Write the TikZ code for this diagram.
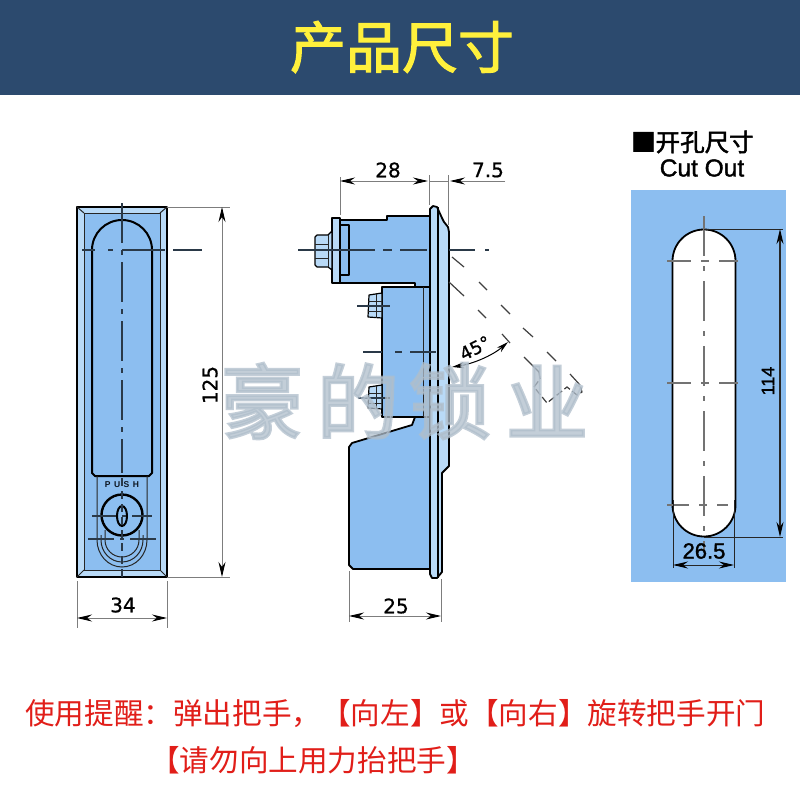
\documentclass[tikz,border=0pt]{standalone}
\usepackage{fontspec}
\setmainfont{Liberation Sans}
\newfontfamily\cjk{Noto Sans CJK SC}
\newfontfamily\cjkmid[FakeBold=2]{Noto Sans CJK SC}
\newfontfamily\cjkmark[FakeBold=3.5]{Noto Sans CJK SC}
\newfontfamily\latinmid[FakeBold=1.5]{Liberation Sans}
\newfontfamily\dimfont[FakeBold=.8]{DejaVu Sans}
\usetikzlibrary{arrows.meta}
\definecolor{headblue}{RGB}{44,74,110}
\definecolor{partblue}{RGB}{140,190,240}
\definecolor{paleblue}{RGB}{185,218,247}
\definecolor{titleyellow}{RGB}{255,240,60}
\definecolor{markgray}{RGB}{176,190,203}
\definecolor{noticered}{RGB}{225,30,25}
\definecolor{dimgray}{RGB}{125,125,125}
\tikzstyle{part}=[draw=black,line width=1.8pt,fill=partblue,line join=round]
\tikzstyle{thin part}=[draw=black!85,line width=1pt]
\tikzstyle{centre}=[draw=black!70!partblue,line width=1.2pt,dash pattern=on 40pt off 7pt on 5pt off 7pt]
\tikzstyle{dim}=[draw=dimgray,line width=1pt]
\tikzstyle{dimline}=[dim,{Stealth[length=15pt,width=7pt,color=black]}-{Stealth[length=15pt,width=7pt,color=black]}]
\tikzstyle{dimend}=[dim,-{Stealth[length=15pt,width=7pt,color=black]}]
\tikzstyle{dimtext}=[font=\dimfont\fontsize{20}{22}\selectfont,inner sep=0pt]
\tikzstyle{ghost}=[draw=black!75,line width=1.2pt]
\begin{document}
\begin{tikzpicture}[x=1pt,y=-1pt]
	\useasboundingbox (0,0) rectangle (800,800);
	\fill[white] (0,0) rectangle (800,800);
	\fill[headblue] (0,0) rectangle (800,95);
	\node[text=titleyellow,inner sep=0pt,font=\cjkmid\fontsize{56}{60}\selectfont] (title) at (402,47) {产品尺寸};

	% Front view
	\draw[part,fill=paleblue] (77,207) rectangle (167,577);
	\fill[partblue] (84,213) rectangle (160,570);
	\draw[thin part] (84,213) rectangle (160,570);
	\draw[thin part] (77,207) -- (84,213) (167,207) -- (160,213) (77,577) -- (84,570) (167,577) -- (160,570);
	\draw[part,line width=2pt] (92,473) -- (92,250) arc[start angle=180,end angle=360,radius=30] -- (152,473) -- (149,476) -- (95,476) -- cycle;
	\draw[thin part] (97,476) -- (97,540) arc[start angle=180,end angle=0,x radius=25,y radius=27] -- (147,476);
	\draw[thin part] (105,530) -- (105,540) arc[start angle=180,end angle=0,x radius=17,y radius=17] -- (139,530);
	\draw[thin part] (101,535) -- (101,540) arc[start angle=180,end angle=0,x radius=21,y radius=22] -- (143,535);
	\draw[part,line width=2.4pt] (122,515) circle (20.5);
	\draw[draw=black,line width=2pt] (122,516) ellipse (5 and 10);
	\node[inner sep=0pt,text=black!70!headblue,font=\bfseries\fontsize{8.5}{10}\selectfont] (push) at (122,485) {P\hspace{3.5pt}U\hspace{3.5pt}S\hspace{3.5pt}H};
	\draw[centre] (122,203) -- (122,473);
	\draw[centre,dash pattern=on 8pt off 5pt] (122,478) -- (122,580);
	\draw[centre,dash pattern=on 13pt off 13pt on 5pt off 9pt on 43pt off 8pt on 30pt] (82,250) -- (202,250);
	\draw[centre,dash pattern=on 24pt off 6pt on 4pt off 6pt] (92,516) -- (152,516);
	\draw[centre,dash pattern=on 26pt off 6pt on 4pt off 6pt] (88,539) -- (156,539);

	% Side view
	\draw[part] (349,447) -- (352,443) -- (412,425) -- (415,417) -- (432,417) -- (432,569) -- (353,569) -- (349,565) -- cycle;
	\draw[part] (340,220) -- (387,220) -- (387,216) -- (432,216) -- (432,287) -- (415,287) -- (415,283) -- (340,283) -- cycle;
	\draw[part] (382,287) rectangle (430,417);
	\draw[thin part] (423,287) -- (423,417);
	\draw[part,fill=paleblue] (332,218) rectangle (340,283);
	\draw[part] (340,225) rectangle (349,275);
	\draw[part,fill=paleblue,line width=1.2pt] (315,237) -- (317,235) -- (328,235) -- (332,231) -- (332,270) -- (328,267) -- (317,267) -- (315,265) -- cycle;
	\draw[thin part] (315,244) -- (328,244) (315,258) -- (328,258) (328,235) -- (328,267);
	\draw[part,fill=paleblue,line width=1.2pt] (382,293) -- (369,295) -- (368,317) -- (382,318) -- cycle;
	\draw[thin part] (368,301) -- (382,301) (368,311) -- (382,311) (376,294) -- (376,318);
	\draw[part,fill=paleblue,line width=1.2pt] (382,385) -- (369,387) -- (368,408) -- (382,409) -- cycle;
	\draw[thin part] (368,393) -- (382,393) (368,403) -- (382,403) (376,386) -- (376,409);
	\draw[part,fill=paleblue] (430,209) -- (433,206) -- (437,207) -- (442,218) -- (444,222) -- (448,227) -- (449,232) -- (449,466) -- (442,473) -- (442,572) -- (437,578) -- (432,578) -- (430,574) -- cycle;
	\draw[black,line width=2.6pt] (430,209) -- (430,574);
	\draw[black,line width=1.2pt] (438,207) -- (438,578);
	\draw[centre,dash pattern=on 77pt off 8pt on 9pt off 8pt on 27pt off 22pt on 26pt off 10pt on 4pt] (298,250) -- (492,250);
	\draw[centre,dash pattern=on 19pt off 13pt on 7pt off 8pt on 26pt] (363,352) -- (436,352);
	\draw[centre] (357,306) -- (390,306) (358,398) -- (390,398);

	% Open handle, 45 degrees
	\draw[ghost] (452,257) -- (464,267) (479,282) -- (487,290) (501,305) -- (510,314) (523,328) -- (533,337) (547,352) -- (556,361) (570,374) -- (580,385);
	\draw[ghost] (449,282) -- (464,296) (478,310) -- (486,318) (502,334) -- (510,343) (524,357) -- (539,372);
	\draw[ghost,dash pattern=on 7pt off 3pt] (539,372) -- (540,379) -- (534,387) -- (547,403) -- (567,387) -- (577,395) -- (582,392) -- (580,385);
	\coordinate (a1) at (452,367);
	\coordinate (a2) at (508,342);
	\draw[black,line width=1pt,{Stealth[length=12pt,width=6pt]}-{Stealth[length=12pt,width=6pt]}] (a1) .. controls (472,364) and (492,356) .. (a2);
	\node[rotate=27,inner sep=0pt,font=\dimfont\fontsize{18}{20}\selectfont] (angle) at (475,348) {45°};

	% Cut out
	\node[anchor=west,inner sep=0pt,font=\cjkmid\fontsize{24.5}{26}\selectfont] (cuttitle) at (631,142) {■开孔尺寸};
	\node[inner sep=0pt,font=\latinmid\fontsize{24.5}{26}\selectfont] (cutname) at (702,168) {Cut Out};
	\fill[partblue] (631,190) rectangle (786,582);
	\draw[fill=white,draw=black,line width=1.8pt] (672.5,261) arc[start angle=180,end angle=360,radius=31.5] -- (735.5,505) arc[start angle=0,end angle=180,radius=31.5] -- cycle;
	\draw[centre,draw=black!55,dash pattern=on 40pt off 10pt on 5pt off 10pt] (704,216) -- (704,552);
	\draw[centre,draw=black!55,dash pattern=on 24pt off 10pt on 8pt off 10pt on 24pt] (667,261) -- (738,261);
	\draw[centre,draw=black!55,dash pattern=on 24pt off 10pt on 8pt off 10pt on 24pt] (667,383) -- (738,383);
	\draw[centre,draw=black!55,dash pattern=on 22pt off 10pt on 8pt off 10pt on 22pt] (667,505) -- (728,505);

	% Dimensions
	\draw[dim] (167,207) -- (230,207) (167,577) -- (230,577);
	\coordinate (d1a) at (222,207);
	\coordinate (d1b) at (222,577);
	\draw[dimline] (d1a) -- (d1b);
	\node[dimtext,rotate=90] (d1) at (210,385) {125};
	\draw[dim] (77,581) -- (77,628) (167,581) -- (167,628);
	\coordinate (d2a) at (77,618);
	\coordinate (d2b) at (167,618);
	\draw[dimline] (d2a) -- (d2b);
	\node[dimtext] (d2) at (123,605) {34};
	\draw[dim] (340,177) -- (340,215) (429,175) -- (429,205) (448,175) -- (448,225);
	\coordinate (d3a) at (340,181);
	\coordinate (d3b) at (428,181);
	\draw[dimline] (d3a) -- (d3b);
	\node[dimtext] (d3) at (388,170) {28};
	\coordinate (d4a) at (505,181);
	\coordinate (d4b) at (450,181);
	\draw[dimend] (d4a) -- (d4b);
	\draw[dim] (429,181) -- (448,181);
	\node[dimtext] (d4) at (488,170) {7.5};
	\draw[dim] (349,571) -- (349,622) (441,579) -- (441,622);
	\coordinate (d5a) at (349,616);
	\coordinate (d5b) at (441,616);
	\draw[dimline] (d5a) -- (d5b);
	\node[dimtext] (d5) at (396,606) {25};
	\draw[black!85,line width=1pt] (704,229) -- (783,229) (704,537) -- (783,537);
	\coordinate (d6a) at (780,229);
	\coordinate (d6b) at (780,537);
	\draw[dimline,draw=black!85,line width=1.2pt] (d6a) -- (d6b);
	\node[dimtext,rotate=90,font=\latinmid\fontsize{18}{20}\selectfont] (d6) at (768,381) {114};
	\draw[black!85,line width=1pt] (673,500) -- (673,568) (734,500) -- (734,568);
	\coordinate (d7a) at (673,565);
	\coordinate (d7b) at (734,565);
	\draw[dimline,draw=black!85,line width=1pt] (d7a) -- (d7b);
	\node[dimtext,font=\latinmid\fontsize{22}{24}\selectfont] (d7) at (704,551) {26.5};

	% Watermark
	\foreach \ch/\xpos in {豪/262,的/358,锁/450,业/547}
		\node[opacity=.75,text=markgray,inner sep=0pt,font=\cjkmark\fontsize{82}{84}\selectfont] (mark\xpos) at (\xpos,401) {\ch};

	% Notice
	\node[text=noticered,inner sep=0pt,anchor=west,font=\cjk\fontsize{29.6}{32}\selectfont] (notice1) at (25,714) {使用提醒：弹出把手，【向左】或【向右】旋转把手开门};
	\node[text=noticered,inner sep=0pt,anchor=west,font=\cjk\fontsize{29.6}{32}\selectfont] (notice2) at (150,760) {【请勿向上用力抬把手】};
\end{tikzpicture}
\end{document}
